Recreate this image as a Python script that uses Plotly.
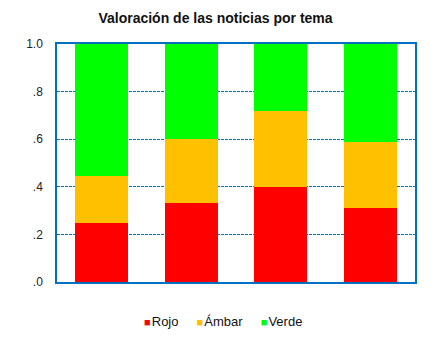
import plotly.graph_objects as go

# Share of news ratings per topic (stacked to 1.0)
temas = ["Tema 1", "Tema 2", "Tema 3", "Tema 4"]
rojo = [0.25, 0.33, 0.40, 0.31]
ambar = [0.195, 0.27, 0.32, 0.28]
verde = [0.555, 0.40, 0.28, 0.41]

series_names = ["Rojo", "Ámbar", "Verde"]
series_values = [rojo, ambar, verde]
series_colors = ["#FF0000", "#FFC000", "#00FF00"]

tick_vals = [0, 0.2, 0.4, 0.6, 0.8, 1.0]
tick_text = [".0", ".2", ".4", ".6", ".8", "1.0"]

fig = go.Figure()
for name, vals, color in zip(series_names, series_values, series_colors):
    fig.add_trace(go.Bar(
        x=temas, y=vals, name=name, marker_color=color,
        marker_line_width=0,
    ))

# compact legend row: coloured square glyph followed by the series name
legend_html = "&nbsp;&nbsp;&nbsp;&nbsp;&nbsp;".join(
    f'<span style="color:{c};font-size:11px">■</span>&#8202;{n}'
    for n, c in zip(series_names, series_colors)
)
fig.add_annotation(
    text=legend_html, showarrow=False,
    xref="paper", yref="paper", x=0.465, y=-0.168,
    xanchor="center", yanchor="middle",
    font=dict(size=13, color="#111111"),
)

axis_color = "#0070C0"
fig.update_layout(
    width=431, height=350,
    barmode="stack", bargap=0.41,
    paper_bgcolor="white", plot_bgcolor="white",
    margin=dict(l=57, r=16, t=44, b=68),
    font=dict(family="Liberation Sans, Arial, sans-serif", size=12, color="#222222"),
    title=dict(
        text="<b>Valoración de las noticias por tema</b>",
        x=0.5, xref="container", xanchor="center",
        y=1 - 18 / 350, yref="container", yanchor="middle",
        font=dict(size=14, color="#111111"),
    ),
    showlegend=False,
    xaxis=dict(
        showticklabels=False, ticks="", showgrid=False,
        showline=True, linecolor=axis_color, linewidth=1.5, mirror=True,
    ),
    yaxis=dict(
        range=[0, 1], tickvals=tick_vals, ticktext=tick_text,
        showgrid=True, gridcolor=axis_color, gridwidth=1, griddash="3px,1px",
        showline=True, linecolor=axis_color, linewidth=1.5, mirror=True,
        ticks="", ticklabelstandoff=10, zeroline=False,
        tickfont=dict(size=12, color="#222222"),
    ),
)

fig.write_html("out.html")
